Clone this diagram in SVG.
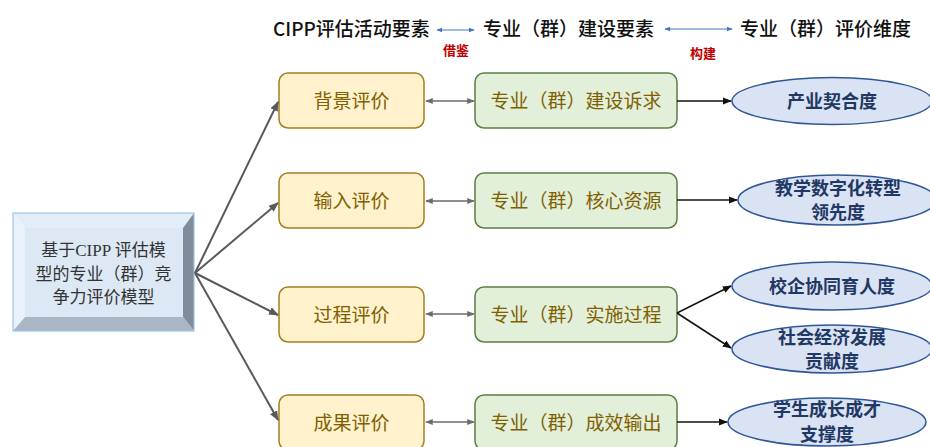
<svg xmlns="http://www.w3.org/2000/svg" width="930" height="447" viewBox="0 0 930 447">
<style>
  .hdr{font-family:"Noto Sans CJK SC","Liberation Sans",sans-serif;font-size:19px;font-weight:500;fill:#111;}
  .lbl{font-family:"Noto Sans CJK SC",sans-serif;font-size:13px;font-weight:bold;fill:#c00000;}
  .ybox{fill:#fff2cc;stroke:#a47f22;stroke-width:1.5;}
  .gbox{fill:#e2efd9;stroke:#5a7f45;stroke-width:1.5;}
  .btxt{font-family:"Noto Sans CJK SC",sans-serif;font-size:19px;fill:#7f6000;text-anchor:middle;}
  .ell{fill:#dae3f3;stroke:#2f5597;stroke-width:1.5;}
  .etxt{font-family:"Noto Sans CJK SC",sans-serif;font-size:18px;font-weight:bold;fill:#1f3864;text-anchor:middle;}
  .ltxt{font-family:"Liberation Serif","Noto Sans CJK SC",serif;font-size:17px;fill:#333;text-anchor:middle;}
  .fan{stroke:#595959;stroke-width:2;fill:none;marker-end:url(#ag);}
  .dbl{stroke:#6b6b6b;stroke-width:1.5;fill:none;marker-start:url(#ds);marker-end:url(#de);}
  .blk{stroke:#111;stroke-width:1.5;fill:none;marker-end:url(#ak);}
  .blu{stroke:#4472c4;stroke-width:1;fill:none;marker-start:url(#bs);marker-end:url(#be);}
</style>
<defs>
  <marker id="ag" viewBox="0 0 10 10" refX="9" refY="5" markerWidth="5" markerHeight="5" orient="auto" markerUnits="strokeWidth"><path d="M0,1 L10,5 L0,9 z" fill="#595959"/></marker>
  <marker id="de" viewBox="0 0 10 10" refX="9" refY="5" markerWidth="5" markerHeight="5" orient="auto" markerUnits="strokeWidth"><path d="M0,1 L10,5 L0,9 z" fill="#6b6b6b"/></marker>
  <marker id="ds" viewBox="0 0 10 10" refX="1" refY="5" markerWidth="5" markerHeight="5" orient="auto" markerUnits="strokeWidth"><path d="M10,1 L0,5 L10,9 z" fill="#6b6b6b"/></marker>
  <marker id="ak" viewBox="0 0 10 10" refX="9" refY="5" markerWidth="6" markerHeight="6" orient="auto" markerUnits="strokeWidth"><path d="M0,1 L10,5 L0,9 z" fill="#111"/></marker>
  <marker id="be" viewBox="0 0 10 10" refX="9" refY="5" markerWidth="6" markerHeight="6" orient="auto" markerUnits="strokeWidth"><path d="M0,1 L10,5 L0,9 z" fill="#4472c4"/></marker>
  <marker id="bs" viewBox="0 0 10 10" refX="1" refY="5" markerWidth="6" markerHeight="6" orient="auto" markerUnits="strokeWidth"><path d="M10,1 L0,5 L10,9 z" fill="#4472c4"/></marker>
</defs>

<g id="header">
  <text class="hdr" x="273" y="36">CIPP评估活动要素</text>
  <text class="hdr" x="483" y="36">专业（群）建设要素</text>
  <text class="hdr" x="740" y="36">专业（群）评价维度</text>
  <text class="lbl" x="443" y="55">借鉴</text>
  <text class="lbl" x="690" y="58">构建</text>
</g>

<g id="root">
  <polygon points="13,213 194,213 183,228 25,228" fill="#e3edf8"/>
  <polygon points="13,213 25,228 25,317 13,331" fill="#e9f1fa"/>
  <polygon points="194,213 194,331 183,317 183,228" fill="#7f8c99"/>
  <polygon points="13,331 194,331 183,317 25,317" fill="#a9b7c5"/>
  <rect x="25" y="228" width="158" height="89" fill="#dce8f4"/>
  <rect x="13" y="213" width="181" height="118" fill="none" stroke="#9dc3e6" stroke-width="1.2"/>
  <text class="ltxt" x="103.5" y="256">基于CIPP 评估模</text>
  <text class="ltxt" x="103.5" y="280">型的专业（群）竞</text>
  <text class="ltxt" x="103.5" y="303">争力评价模型</text>
</g>

<g id="c1"><rect class="ybox" x="279" y="73" width="145" height="55" rx="9"/><text class="btxt" x="351.5" y="107.5">背景评价</text></g>
<g id="c2"><rect class="ybox" x="279" y="173" width="145" height="55" rx="9"/><text class="btxt" x="351.5" y="207.5">输入评价</text></g>
<g id="c3"><rect class="ybox" x="279" y="287" width="145" height="55" rx="9"/><text class="btxt" x="351.5" y="321.5">过程评价</text></g>
<g id="c4"><rect class="ybox" x="279" y="395" width="145" height="55" rx="9"/><text class="btxt" x="351.5" y="429.5">成果评价</text></g>

<g id="g1"><rect class="gbox" x="475" y="73" width="202" height="55" rx="9"/><text class="btxt" x="576" y="107.5">专业（群）建设诉求</text></g>
<g id="g2"><rect class="gbox" x="475" y="173" width="202" height="55" rx="9"/><text class="btxt" x="576" y="207.5">专业（群）核心资源</text></g>
<g id="g3"><rect class="gbox" x="475" y="287" width="202" height="55" rx="9"/><text class="btxt" x="576" y="321.5">专业（群）实施过程</text></g>
<g id="g4"><rect class="gbox" x="475" y="395" width="202" height="55" rx="9"/><text class="btxt" x="576" y="429.5">专业（群）成效输出</text></g>

<g id="e1"><ellipse class="ell" cx="832" cy="101" rx="100" ry="23.5"/><text class="etxt" x="832" y="107.5">产业契合度</text></g>
<g id="e2"><ellipse class="ell" cx="837" cy="200" rx="99" ry="25"/><text class="etxt" x="838" y="194.5">教学数字化转型</text><text class="etxt" x="838" y="218.5">领先度</text></g>
<g id="e3"><ellipse class="ell" cx="832" cy="286" rx="100" ry="24"/><text class="etxt" x="832" y="292.5">校企协同育人度</text></g>
<g id="e4"><ellipse class="ell" cx="832" cy="349" rx="100" ry="24"/><text class="etxt" x="832" y="344">社会经济发展</text><text class="etxt" x="832" y="368">贡献度</text></g>
<g id="e5"><ellipse class="ell" cx="827" cy="422" rx="99" ry="24"/><text class="etxt" x="827" y="416">学生成长成才</text><text class="etxt" x="827" y="441">支撑度</text></g>

<g id="connectors">
  <line class="blu" x1="437" y1="30" x2="474" y2="30"/>
  <line class="blu" x1="665" y1="29" x2="732" y2="29"/>
  <line class="fan" x1="195" y1="273" x2="278" y2="102"/>
  <line class="fan" x1="195" y1="273" x2="278" y2="203"/>
  <line class="fan" x1="195" y1="273" x2="278" y2="315"/>
  <line class="fan" x1="195" y1="273" x2="278" y2="420"/>
  <line class="dbl" x1="426" y1="101" x2="474" y2="101"/>
  <line class="dbl" x1="426" y1="201" x2="474" y2="201"/>
  <line class="dbl" x1="426" y1="314" x2="474" y2="314"/>
  <line class="dbl" x1="426" y1="422" x2="474" y2="422"/>
  <line class="blk" x1="677" y1="101" x2="731" y2="101"/>
  <line class="blk" x1="677" y1="200" x2="737" y2="200"/>
  <line class="blk" x1="677" y1="313" x2="731" y2="286"/>
  <line class="blk" x1="677" y1="313" x2="731" y2="348"/>
  <line class="blk" x1="677" y1="422" x2="727" y2="422"/>
</g>
</svg>
